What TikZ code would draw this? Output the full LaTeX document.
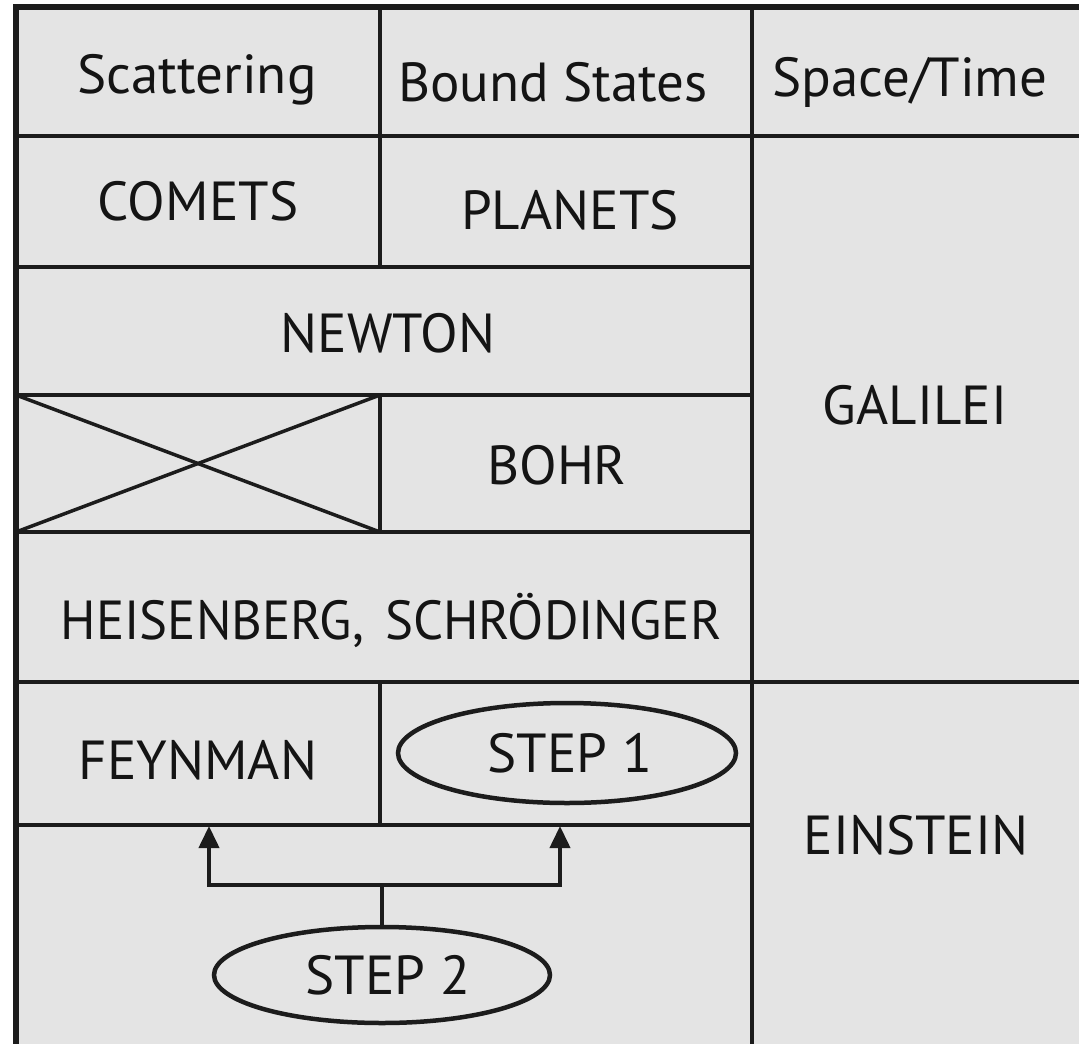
\documentclass[tikz,border=0pt]{standalone}
\usepackage{fontspec}
\setmainfont{PT Sans}
\usetikzlibrary{arrows.meta,shapes.geometric}
\definecolor{bg}{HTML}{E4E4E4}
\definecolor{ink}{HTML}{1C1C1C}
\definecolor{txt}{HTML}{141414}
\begin{document}
\begin{tikzpicture}[x=1pt,y=-1pt,
  grid/.style={draw=ink,line width=4.5pt},
  outer/.style={draw=ink,line width=6pt},
  lbl/.style={text=txt,font=\fontsize{55}{62}\selectfont,inner sep=0pt},
  oval/.style={ellipse,draw=ink,line width=4.5pt,inner sep=0pt,text=txt,font=\fontsize{55}{62}\selectfont},
  conn/.style={draw=ink,line width=4pt},
  tip/.style={-{Triangle[length=22pt,width=20pt]}}]
\useasboundingbox (0,0) rectangle (1079,1044);
\fill[white] (0,0) rectangle (1079,1044);
\fill[bg] (16,7) rectangle (1079,1044);
% grid lines
\draw[grid] (16,136) -- (1079,136);
\draw[grid] (16,267) -- (752,267);
\draw[grid] (16,395) -- (752,395);
\draw[grid] (16,532) -- (752,532);
\draw[grid] (16,682) -- (1079,682);
\draw[grid] (16,825) -- (752,825);
\draw[grid] (380,7) -- (380,267);
\draw[grid] (380,395) -- (380,532);
\draw[grid] (380,682) -- (380,825);
\draw[grid] (752,7) -- (752,1044);
\draw[draw=ink,line width=3.5pt] (16,395) -- (380,532);
\draw[draw=ink,line width=3.5pt] (16,532) -- (380,395);
\draw[outer] (13,7) -- (1079,7);
\draw[outer] (16,4) -- (16,1044);
% labels
\node[lbl] (scat) at (197,80) {Scattering};
\node[lbl] (bound) at (553,82) {Bound States};
\node[lbl] (space) at (910,82) {Space/Time};
\node[lbl] (comets) at (198,201) {COMETS};
\node[lbl] (planets) at (570,210) {PLANETS};
\node[lbl] (newton) at (388,333) {NEWTON};
\node[lbl] (galilei) at (915,405) {GALILEI};
\node[lbl] (bohr) at (557,465) {BOHR};
\node[lbl] (heis) at (391,620) {\scalebox{0.96}[1]{HEISENBERG,\hspace{22pt}SCHRÖDINGER}};
\node[lbl] (feyn) at (198,760) {FEYNMAN};
\node[lbl] (einstein) at (916,835) {EINSTEIN};
\node[oval,minimum width=338pt,minimum height=100pt] (step1) at (567,753) {\hspace*{6pt}STEP 1};
\node[oval,minimum width=336pt,minimum height=96pt] (step2) at (382,975) {\hspace*{12pt}STEP 2};
% connectors
\coordinate (fork) at (382,885);
\coordinate (tfeyn) at (209,826);
\coordinate (tstep) at (560,826);
\draw[conn] (step2.north) -- (fork);
\draw[conn,tip] (fork) -| (tfeyn);
\draw[conn,tip] (fork) -| (tstep);
\end{tikzpicture}
\end{document}
